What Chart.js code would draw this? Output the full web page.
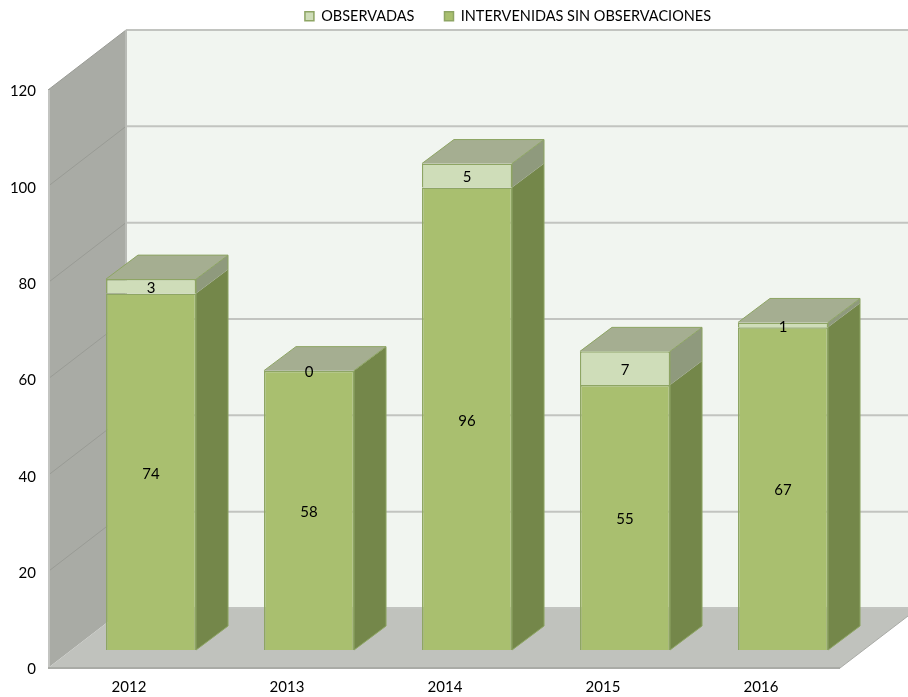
<!DOCTYPE html>
<html>
<head>
<meta charset="utf-8">
<style>
  html, body { margin: 0; padding: 0; background: #fff; }
  #wrap { width: 908px; height: 697px; }
</style>
<script src="https://cdn.jsdelivr.net/npm/chart.js@4"></script>
</head>
<body>
<div id="wrap"><canvas id="chart"></canvas></div>
<script>
const categories = ["2012", "2013", "2014", "2015", "2016"]
const intervenidas = [74, 58, 96, 55, 67]
const observadas = [3, 0, 5, 7, 1]
const yTicks = [0, 20, 40, 60, 80, 100, 120]

// wall depth and where the bars sit inside it
const wallX = 78
const wallY = -60
const barX = 22
const barY = -18
const depthX = 32
const depthY = -24

function poly(ctx, pts, fill) {
  ctx.beginPath()
  pts.forEach((p, i) => (i ? ctx.lineTo(p[0], p[1]) : ctx.moveTo(p[0], p[1])))
  ctx.closePath()
  ctx.fillStyle = fill
  ctx.fill()
}

function line(ctx, x1, y1, x2, y2, color, w) {
  ctx.beginPath()
  ctx.moveTo(x1, y1)
  ctx.lineTo(x2, y2)
  ctx.strokeStyle = color
  ctx.lineWidth = w
  ctx.stroke()
}

const box3d = {
  id: "box3d",
  beforeInit(chart) {
    // keep room above the plot, the legend itself stays at the top
    const fit = chart.legend.fit
    chart.legend.fit = function () {
      fit.call(this)
      this.height = 90
    }
  },
  afterLayout(chart) {
    chart.legend.left += 88
    chart.legend.right += 88
    chart.legend.top = -21
  },
  beforeDatasetsDraw(chart) {
    const ctx = chart.ctx
    const y = chart.scales.y
    const x = chart.scales.x
    const y0 = y.getPixelForValue(0)
    const yMax = y.getPixelForValue(120)
    const left = x.left - 2
    const back = left + wallX

    // back wall, side wall, floor
    poly(ctx, [[back, yMax + wallY], [908, yMax + wallY], [908, y0 + wallY], [back, y0 + wallY]], "#f1f5f0")
    poly(ctx, [[left, yMax], [back, yMax + wallY], [back, y0 + wallY], [left, y0]], "#a9aba5")
    poly(ctx, [[left, y0], [back, y0 + wallY], [908, y0 + wallY], [908, y0 + wallY + 8], [x.right, y0]], "#c0c2bd")

    yTicks.forEach((v) => {
      const py = y.getPixelForValue(v)
      if (v > 0) line(ctx, left, py, back, py + wallY, "#999b95", 1)
      line(ctx, back, py + wallY, 908, py + wallY, "#c2c4c0", 2)
    })
    line(ctx, left + 1, yMax, left + 1, y0, "#c3c4c1", 2)
    line(ctx, back, yMax + wallY, back, y0 + wallY, "#b9bbb6", 2)
    line(ctx, left, y0, x.right, y0, "#a9aba6", 2)
    line(ctx, x.right, y0, 908, y0 + wallY + 8, "#a9aba6", 1)

    ctx.save()
    ctx.translate(barX, barY)
  },
  afterDatasetsDraw(chart) {
    const ctx = chart.ctx
    const sideColors = ["#74874a", "#8f9a7d"]
    const edge = "#8ea564"
    const lower = chart.getDatasetMeta(0).data

    chart.data.datasets.forEach((ds, d) => {
      chart.getDatasetMeta(d).data.forEach((bar) => {
        const r = bar.x + bar.width / 2
        if (Math.abs(bar.base - bar.y) > 0) {
          poly(ctx, [[r, bar.y], [r + depthX, bar.y + depthY], [r + depthX, bar.base + depthY], [r, bar.base]], sideColors[d])
        }
      })
    })

    // top faces on the stack top
    chart.getDatasetMeta(1).data.forEach((bar, i) => {
      const l = bar.x - bar.width / 2
      const r = bar.x + bar.width / 2
      poly(ctx, [[l, bar.y], [l + depthX, bar.y + depthY], [r + depthX, bar.y + depthY], [r, bar.y]], "#a5ae91")
      line(ctx, l, bar.y, l + depthX, bar.y + depthY, edge, 1)
      line(ctx, l + depthX, bar.y + depthY, r + depthX, bar.y + depthY, edge, 1)
      line(ctx, r, bar.y, r + depthX, bar.y + depthY, edge, 1)
      line(ctx, r + depthX, bar.y + depthY, r + depthX, lower[i].base + depthY, edge, 1)
      line(ctx, r, bar.y, r, lower[i].base, edge, 1)
      line(ctx, r, lower[i].base, r + depthX, lower[i].base + depthY, edge, 1)
    })

    // value labels
    ctx.font = "15px Lato"
    ctx.fillStyle = "#000"
    ctx.textAlign = "center"
    ctx.textBaseline = "middle"
    chart.data.datasets.forEach((ds, d) => {
      chart.getDatasetMeta(d).data.forEach((bar, i) => {
        ctx.fillText(ds.data[i], bar.x, (bar.y + bar.base) / 2 + 2)
      })
    })
    ctx.restore()
  },
}

new Chart(document.getElementById("chart"), {
  type: "bar",
  data: {
    labels: categories,
    datasets: [
      {
        label: "INTERVENIDAS SIN OBSERVACIONES",
        data: intervenidas,
        backgroundColor: "#a9bf6f",
        borderColor: "#8ea564",
        borderWidth: 1.5,
      },
      {
        label: "OBSERVADAS",
        data: observadas,
        backgroundColor: "#cfddb9",
        borderColor: "#8ea564",
        borderWidth: 1.5,
      },
    ],
  },
  plugins: [box3d],
  options: {
    responsive: true,
    maintainAspectRatio: false,
    animation: false,
    barPercentage: 0.57,
    categoryPercentage: 1,
    layout: { padding: { right: 68 } },
    plugins: {
      tooltip: { enabled: false },
      legend: {
        position: "top",
        reverse: true,
        labels: {
          boxWidth: 9,
          boxHeight: 9,
          padding: 30,
          color: "#000",
          font: { family: "Lato", size: 14.5 },
        },
      },
    },
    scales: {
      x: {
        stacked: true,
        grid: { display: false },
        border: { display: false },
        ticks: { color: "#000", padding: 2, maxRotation: 0, font: { family: "Lato", size: 15 } },
        afterFit(s) { s.height = 29 },
      },
      y: {
        stacked: true,
        min: 0,
        max: 120,
        grid: { display: false },
        border: { display: false },
        afterBuildTicks(s) { s.ticks = yTicks.map((v) => ({ value: v })) },
        ticks: { color: "#000", padding: 6, labelOffset: 1.5, font: { family: "Lato", size: 15 } },
        afterFit(s) { s.width = 50 },
      },
    },
  },
})
</script>
</body>
</html>
